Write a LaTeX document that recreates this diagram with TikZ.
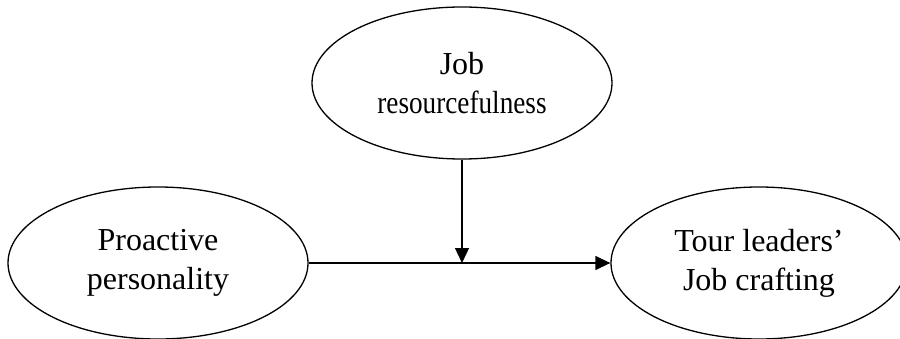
\documentclass[tikz,border=0pt]{standalone}
\usepackage{fontspec}
\setmainfont{Liberation Serif}
\usepackage{tikz}
\usetikzlibrary{shapes.geometric}
\usetikzlibrary{arrows.meta}
\tikzstyle{construct}=[draw, ellipse, line width=1.3pt, inner sep=0pt, minimum width=300pt, minimum height=152pt, align=center, font=\fontsize{32}{39}\selectfont]
\tikzstyle{path}=[line width=1.3pt, -{Triangle[length=15pt, width=14pt]}]

\begin{document}
\begin{tikzpicture}[x=1pt, y=1pt]
        \useasboundingbox (0, 0) rectangle (900, 338);
        \node[construct] (JR) at (462, 255) {Job\\\scalebox{0.85}[1]{resourcefulness}};
        \node[construct] (PP) at (158, 75) {Proactive\\personality};
        \node[construct, minimum width=296pt] (JC) at (759, 75) {Tour leaders'\\Job crafting};
        \coordinate (M) at (JR.south |- PP.east);
        \draw[path] (PP.east) -- (JC.west);
        \draw[path] (JR.south) -- (M);
    \end{tikzpicture}
\end{document}
